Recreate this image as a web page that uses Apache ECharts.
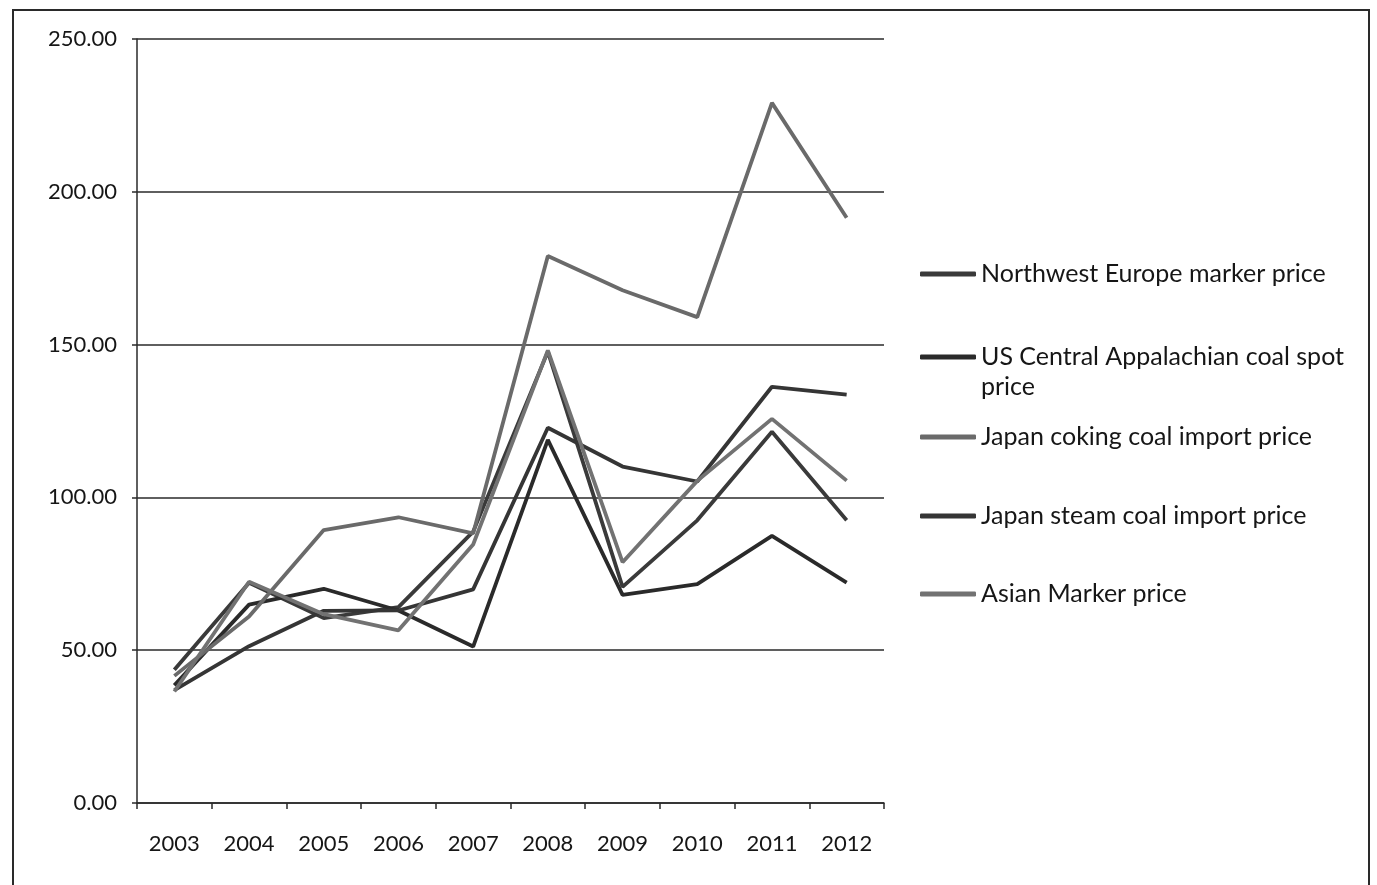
<!DOCTYPE html>
<html>
<head>
<meta charset="utf-8">
<title>Coal prices 2003-2012</title>
<script src="https://cdn.jsdelivr.net/npm/echarts@6/dist/echarts.min.js"></script>
<style>
  html, body { margin: 0; padding: 0; background: #ffffff; }
  #chart { width: 1377px; height: 885px; }
</style>
</head>
<body>
<div id="chart"></div>
<script>
// Coal prices, US dollars per tonne
const years = ['2003', '2004', '2005', '2006', '2007', '2008', '2009', '2010', '2011', '2012'];

const northwestEurope = [43.6, 72.1, 60.5, 64.1, 88.8, 147.7, 70.7, 92.5, 121.5, 92.5];
const usCentralAppalachian = [38.5, 64.9, 70.1, 63.0, 51.2, 118.8, 68.1, 71.6, 87.4, 72.1];
const japanCoking = [41.6, 61.0, 89.3, 93.5, 88.2, 179.0, 167.8, 159.0, 229.1, 191.5];
const japanSteam = [36.9, 51.3, 62.9, 63.0, 69.9, 122.8, 110.1, 105.2, 136.2, 133.6];
const asianMarker = [36.5, 72.4, 61.8, 56.5, 84.6, 148.1, 78.8, 105.4, 125.7, 105.5];

const yTicks = { min: 0, max: 250, interval: 50 };

const seriesDefs = [
  { name: 'Northwest Europe marker price', data: northwestEurope, color: '#3a3a3a' },
  { name: 'US Central Appalachian coal spot price', data: usCentralAppalachian, color: '#2a2a2a' },
  { name: 'Japan coking coal import price', data: japanCoking, color: '#6a6a6a' },
  { name: 'Japan steam coal import price', data: japanSteam, color: '#353535' },
  { name: 'Asian Marker price', data: asianMarker, color: '#727272' }
];

const fontFamily = 'Lato, "Open Sans", sans-serif';
const textColor = '#161616';
const legendTops = [259, 342, 422, 501, 579];

const chart = echarts.init(document.getElementById('chart'), null, { renderer: 'canvas' });

chart.setOption({
  backgroundColor: '#ffffff',
  animation: false,
  grid: { left: 137, right: 493, top: 39, bottom: 82 },
  xAxis: {
    type: 'category',
    data: years,
    boundaryGap: true,
    axisLine: { lineStyle: { color: '#2a2a2a', width: 1.5 } },
    axisTick: { show: true, length: 6, lineStyle: { color: '#2a2a2a', width: 1.5 } },
    axisLabel: { color: textColor, fontSize: 22, fontFamily: fontFamily, margin: 30 },
    splitLine: { show: false }
  },
  yAxis: {
    type: 'value',
    min: yTicks.min,
    max: yTicks.max,
    interval: yTicks.interval,
    axisLine: { show: true, lineStyle: { color: '#2a2a2a', width: 1.5 } },
    axisTick: { show: true, length: 5, lineStyle: { color: '#2a2a2a', width: 1.5 } },
    axisLabel: {
      color: textColor, fontSize: 22, fontFamily: fontFamily, margin: 20,
      formatter: v => v.toFixed(2)
    },
    splitLine: { show: true, lineStyle: { color: '#2a2a2a', width: 1.5 } }
  },
  legend: seriesDefs.map((s, i) => ({
    data: [{ name: s.name, icon: 'roundRect', itemStyle: { color: s.color } }],
    orient: 'vertical',
    left: 920,
    top: legendTops[i],
    padding: 0,
    itemWidth: 56,
    itemHeight: 5,
    selectedMode: false,
    formatter: name => name === 'US Central Appalachian coal spot price' ? 'US Central Appalachian coal spot' : name,
    textStyle: { color: textColor, fontSize: 25, fontFamily: fontFamily, lineHeight: 30 }
  })),
  graphic: [
    {
      type: 'rect',
      shape: { x: 13, y: 10, width: 1356, height: 900 },
      style: { fill: 'none', stroke: '#2a2a2a', lineWidth: 2 },
      silent: true
    },
    {
      type: 'text',
      left: 981,
      top: 374,
      style: { text: 'price', fill: textColor, font: '25px ' + fontFamily }
    }
  ],
  series: seriesDefs.map(s => ({
    name: s.name,
    type: 'line',
    data: s.data,
    symbol: 'none',
    color: s.color,
    lineStyle: { color: s.color, width: 3.8 },
    itemStyle: { color: s.color }
  }))
});
</script>
</body>
</html>
